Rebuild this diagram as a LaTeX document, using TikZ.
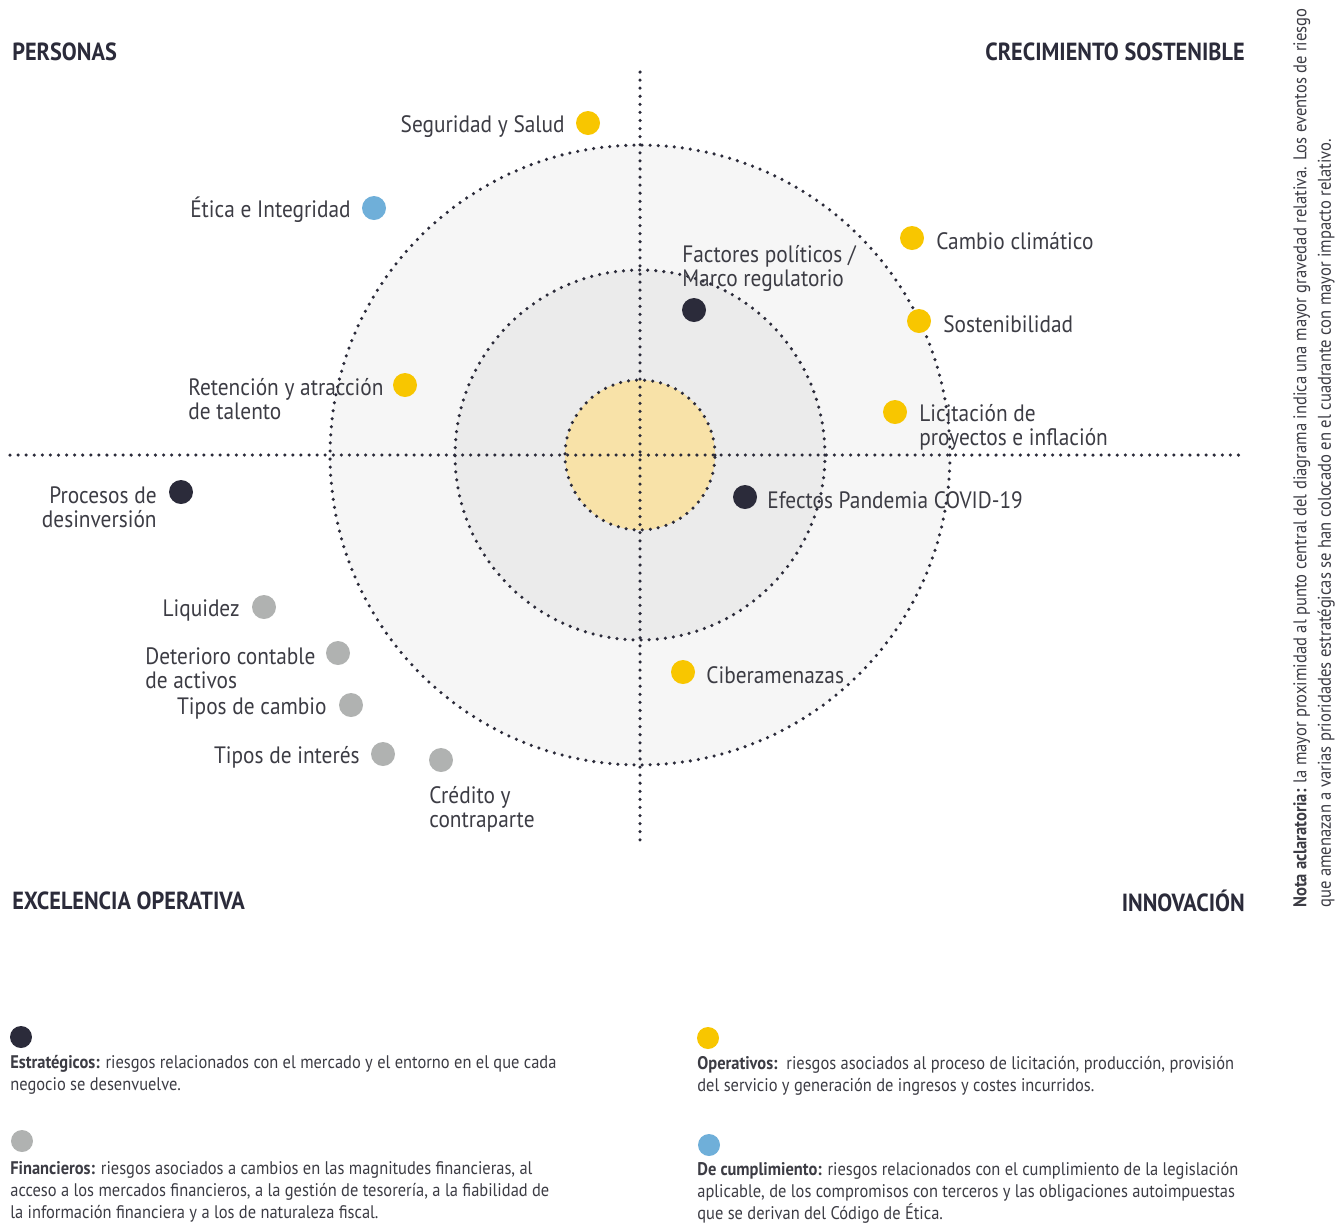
\documentclass[tikz,border=0pt]{standalone}
\usepackage{fontspec}
\setmainfont[FakeStretch=0.9]{PT Sans}
\definecolor{cyel}{RGB}{248,198,0}
\definecolor{cdark}{RGB}{43,43,58}
\definecolor{cgrey}{RGB}{176,178,177}
\definecolor{cblue}{RGB}{111,175,217}
\definecolor{fouter}{RGB}{246,246,246}
\definecolor{fmid}{RGB}{235,235,235}
\definecolor{finner}{RGB}{248,226,168}
\definecolor{ctext}{RGB}{60,60,68}
\definecolor{chead}{RGB}{43,43,58}
\tikzset{
  dotline/.style={line width=2pt, line cap=round, dash pattern=on 0pt off 4.6pt, draw=cdark},
  riskdot/.style={circle, fill=#1, minimum size=0.48cm, inner sep=0pt, draw=none},
  legdot/.style={circle, fill=#1, minimum size=0.44cm, inner sep=0pt, draw=none},
  lab/.style={inner sep=0pt, yshift=-1.2pt, text=ctext, font=\fontsize{13.5}{13.6}\selectfont, align=left},
  labr/.style={inner sep=0pt, yshift=-1.2pt, text=ctext, font=\fontsize{13.5}{13.6}\selectfont, align=right},
  head/.style={inner sep=0pt, text=chead, font=\fontsize{14.1}{15}\selectfont\bfseries},
  legtxt/.style={inner sep=0pt, text=ctext, font=\fontsize{10.4}{12.5}\selectfont, align=left},
}
\begin{document}
\begin{tikzpicture}[x=0.02cm,y=-0.02cm]
\useasboundingbox (0,0) rectangle (1344,1225);
\coordinate (c) at (640,455);
% rings
\fill[fouter] (c) circle (6.2cm);
\fill[fmid] (c) circle (3.7cm);
\fill[finner] (c) circle (1.5cm);
\draw[dotline] (c) circle (6.2cm);
\draw[dotline] (c) circle (3.7cm);
\draw[dotline] (c) circle (1.5cm);
% axes
\coordinate (hl) at (10,455);
\coordinate (hr) at (1245,455);
\coordinate (vt) at (640,72);
\coordinate (vb) at (640,843);
\draw[dotline] (hl) -- (hr);
\draw[dotline] (vt) -- (vb);
% headings
\node[head, anchor=west] (hpers) at (12,52) {PERSONAS};
\node[head, anchor=east] (hcrec) at (1245,52) {CRECIMIENTO SOSTENIBLE};
\node[head, anchor=west] (hexc) at (12,901) {EXCELENCIA OPERATIVA};
\node[head, anchor=east] (hinn) at (1245,901) {INNOVACIÓN};
% risks
\node[riskdot=cyel] (dseg) at (588,123) {};
\node[labr, anchor=east] (lseg) at (565,124) {Seguridad y Salud};
\node[riskdot=cblue] (detica) at (374,208) {};
\node[labr, anchor=east] (letica) at (351,208) {Ética e Integridad};
\node[riskdot=cyel] (dclima) at (912,238) {};
\node[lab, anchor=west] (lclima) at (936,239) {Cambio climático};
\node[riskdot=cdark] (dfact) at (694,310) {};
\node[lab, anchor=west] (lfact) at (682,266) {Factores políticos /\\Marco regulatorio};
\node[riskdot=cyel] (dsost) at (919,321) {};
\node[lab, anchor=west] (lsost) at (943,322) {Sostenibilidad};
\node[riskdot=cyel] (dret) at (405,385) {};
\node[lab, anchor=west] (lret) at (188,397) {Retención y atracción\\de talento};
\node[riskdot=cyel] (dlic) at (895,412) {};
\node[lab, anchor=west] (llic) at (919,425) {Licitación de\\proyectos e inflación};
\node[riskdot=cdark] (dproc) at (181,492) {};
\node[labr, anchor=east] (lproc) at (157,505) {Procesos de\\desinversión};
\node[riskdot=cdark] (defec) at (745,497) {};
\node[lab, anchor=west] (lefec) at (767,498) {Efectos Pandemia COVID-19};
\node[riskdot=cgrey] (dliq) at (264,607) {};
\node[labr, anchor=east] (lliq) at (240,608) {Liquidez};
\node[riskdot=cgrey] (ddet) at (338,653) {};
\node[lab, anchor=west] (ldet) at (145,666) {Deterioro contable\\de activos};
\node[riskdot=cgrey] (dtcam) at (351,705) {};
\node[labr, anchor=east] (ltcam) at (327,706) {Tipos de cambio};
\node[riskdot=cgrey] (dtint) at (383,754) {};
\node[labr, anchor=east] (ltint) at (360,755) {Tipos de interés};
\node[riskdot=cgrey] (dcred) at (441,760) {};
\node[lab, anchor=west] (lcred) at (429,807) {Crédito y\\contraparte};
\node[riskdot=cyel] (dciber) at (683,672) {};
\node[lab, anchor=west] (lciber) at (706,673) {Ciberamenazas};
% legend
\node[legdot=cdark] (gest) at (21,1037) {};
\node[legtxt, anchor=west] (test) at (10,1075) {\textbf{Estratégicos:} riesgos relacionados con el mercado y el entorno en el que cada\\negocio se desenvuelve.};
\node[legdot=cgrey] (gfin) at (22,1141) {};
\node[legtxt, anchor=west] (tfin) at (10,1192) {\textbf{Financieros:} riesgos asociados a cambios en las magnitudes financieras, al\\acceso a los mercados financieros, a la gestión de tesorería, a la fiabilidad de\\la información financiera y a los de naturaleza fiscal.};
\node[legdot=cyel] (gope) at (708,1038) {};
\node[legtxt, anchor=west] (tope) at (697,1076) {\textbf{Operativos:}\ \ riesgos asociados al proceso de licitación, producción, provisión\\del servicio y generación de ingresos y costes incurridos.};
\node[legdot=cblue] (gcum) at (709,1145) {};
\node[legtxt, anchor=west] (tcum) at (697,1193) {\textbf{De cumplimiento:} riesgos relacionados con el cumplimiento de la legislación\\aplicable, de los compromisos con terceros y las obligaciones autoimpuestas\\que se derivan del Código de Ética.};
% note
\node[legtxt, rotate=90, anchor=west, font=\fontsize{10.5}{14}\selectfont] (note) at (1314,908) {\textbf{Nota aclaratoria:} la mayor proximidad al punto central del diagrama indica una mayor gravedad relativa. Los eventos de riesgo\\que amenazan a varias prioridades estratégicas se han colocado en el cuadrante con mayor impacto relativo.};
\end{tikzpicture}
\end{document}
